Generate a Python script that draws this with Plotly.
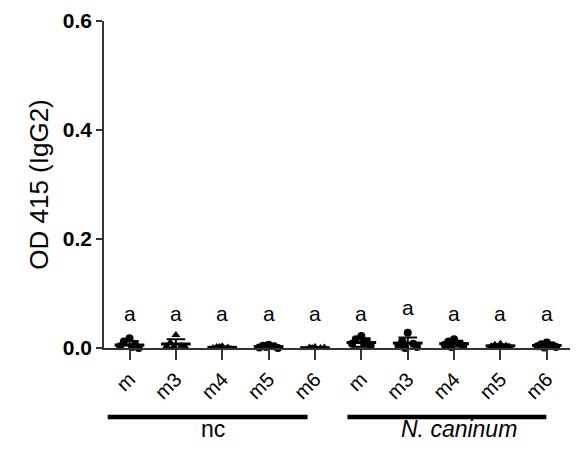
import plotly.graph_objects as go
import numpy as np

categories = ["m", "m3", "m4", "m5", "m6", "m", "m3", "m4", "m5", "m6"]
groups = ["nc", "N. caninum"]
# OD 415 (IgG2) values per mouse
v_nc_m  = [0.018, 0.012, 0.006, 0.003, 0.000, -0.003, 0.002]
v_nc_m3 = [0.024, 0.010, 0.004, 0.003, 0.002, 0.001]
v_nc_m4 = [0.003, 0.002, 0.001, 0.000, -0.001, 0.002]
v_nc_m5 = [0.006, 0.004, 0.003, 0.001, 0.000, 0.002]
v_nc_m6 = [0.002, 0.001, 0.000, -0.001, 0.001, 0.000]
v_ca_m  = [0.022, 0.016, 0.012, 0.008, 0.004, -0.002, 0.010]
v_ca_m3 = [0.028, 0.012, 0.008, 0.004, 0.002, 0.000]
v_ca_m4 = [0.016, 0.012, 0.008, 0.006, 0.004, 0.002]
v_ca_m5 = [0.008, 0.006, 0.004, 0.003, 0.002, 0.001]
v_ca_m6 = [0.010, 0.007, 0.005, 0.003, 0.002, 0.001]
series = [v_nc_m, v_nc_m3, v_nc_m4, v_nc_m5, v_nc_m6,
          v_ca_m, v_ca_m3, v_ca_m4, v_ca_m5, v_ca_m6]
symbols = ["circle", "triangle-up", "triangle-up", "circle", "triangle-up",
           "circle", "circle", "circle", "triangle-up", "circle"]
letters = ["a"] * 10
letter_y = [0.064, 0.064, 0.064, 0.064, 0.064, 0.064, 0.075, 0.064, 0.064, 0.064]

fig = go.Figure()
for i, vals in enumerate(series):
    n = len(vals)
    offs = [0.0, -0.12, 0.12, -0.2, 0.2, -0.06, 0.06][:n]
    fig.add_trace(go.Scatter(
        x=[i + o for o in offs], y=vals, mode="markers",
        marker=dict(symbol=symbols[i], size=8, color="black"),
        cliponaxis=False, showlegend=False))
    m = float(np.mean(vals)); sd = float(np.std(vals, ddof=1))
    fig.add_trace(go.Scatter(x=[i - 0.32, i + 0.32], y=[m, m], mode="lines",
                             line=dict(color="black", width=3),
                             cliponaxis=False, showlegend=False))
    fig.add_trace(go.Scatter(x=[i, i, None, i - 0.2, i + 0.2, None, i - 0.2, i + 0.2],
                             y=[m - sd, m + sd, None, m + sd, m + sd, None, m - sd, m - sd],
                             mode="lines", line=dict(color="black", width=2),
                             cliponaxis=False, showlegend=False))

for i, (t, yv) in enumerate(zip(letters, letter_y)):
    fig.add_annotation(x=i, y=yv, text=t, showarrow=False, xref="x", yref="y",
                       font=dict(size=21, color="black"))

group_spans = [(-0.47, 3.84), (4.70, 8.99)]
group_centers = [1.8, 7.1]
for (a, b), g, c in zip(group_spans, groups, group_centers):
    fig.add_shape(type="line", x0=a, x1=b, y0=-0.211, y1=-0.211, xref="x", yref="paper",
                  line=dict(color="black", width=4.5))
    txt = g if g == "nc" else "<i>" + g + "</i>"
    fig.add_annotation(x=c, y=-0.295, text=txt, showarrow=False, xref="x", yref="paper",
                       font=dict(size=23, color="black"))

fig.update_layout(
    width=580, height=464, margin=dict(l=104, r=10, t=21, b=116),
    plot_bgcolor="white", paper_bgcolor="white",
    font=dict(family="Liberation Sans, Arial", color="black"),
    xaxis=dict(range=[-0.55, 9.5], tickmode="array", tickvals=list(range(10)),
               ticktext=categories, tickangle=-45, showline=True, linecolor="#333",
               linewidth=1.5, ticks="outside", ticklen=10, tickwidth=1.5, tickcolor="#333",
               showgrid=False, zeroline=False, tickfont=dict(size=20)),
    yaxis=dict(range=[0, 0.6], tickvals=[0, 0.2, 0.4, 0.6],
               ticktext=["<b>0.0</b>", "<b>0.2</b>", "<b>0.4</b>", "<b>0.6</b>"],
               showline=True, linecolor="#333", linewidth=1.5, ticks="outside",
               ticklen=6, tickwidth=1.5, tickcolor="#333", showgrid=False, zeroline=False,
               tickfont=dict(size=21),
               title=dict(text="OD 415 (IgG2)", font=dict(size=26), standoff=7)),
)
fig.write_html("out.html")
